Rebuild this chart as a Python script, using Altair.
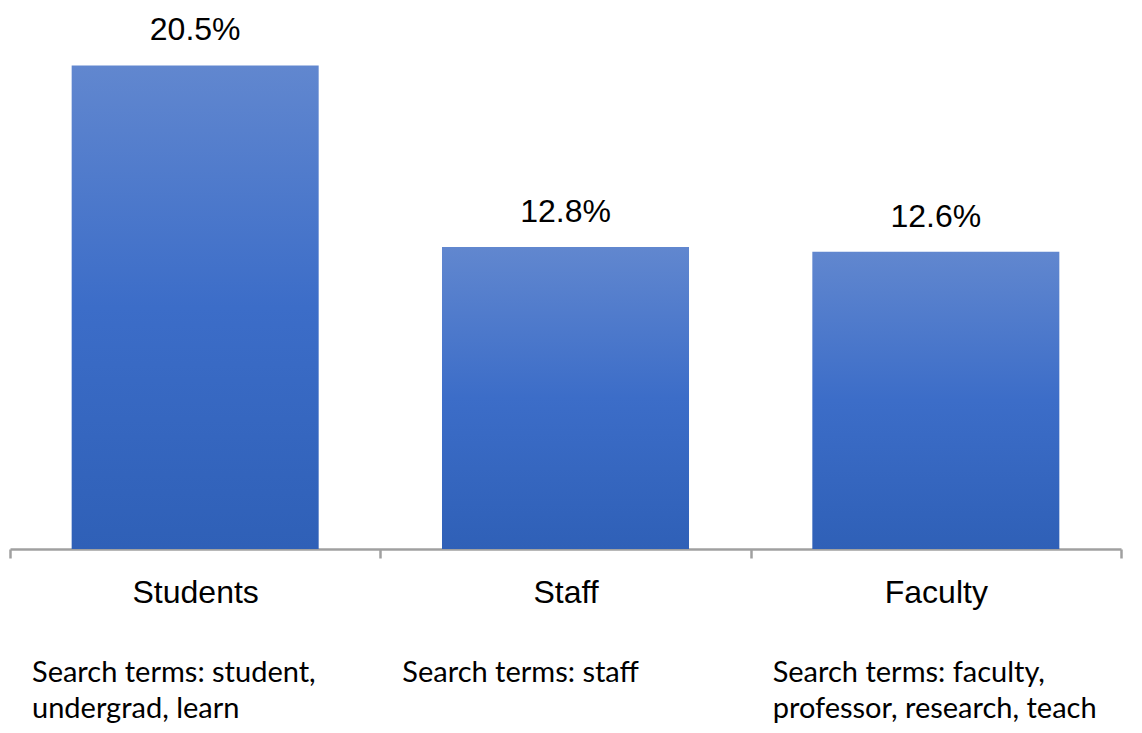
import altair as alt
import pandas as pd

categories = ["Students", "Staff", "Faculty"]
values = [20.5, 12.8, 12.6]
labels = ["20.5%", "12.8%", "12.6%"]
search_terms = [
    "Search terms: student,\nundergrad, learn",
    "Search terms: staff",
    "Search terms: faculty,\nprofessor, research, teach",
]

df = pd.DataFrame({"cat": categories, "value": values, "label": labels, "terms": search_terms})

xscale = alt.Scale(domain=categories, paddingInner=0, paddingOuter=0)
yscale = alt.Scale(domain=[0, 22], nice=False, zero=True)

grad = alt.Gradient(
    gradient="linear",
    stops=[
        alt.GradientStop(color="#6187cf", offset=0),
        alt.GradientStop(color="#3c6dc8", offset=0.5),
        alt.GradientStop(color="#2f60b7", offset=1),
    ],
    x1=0, x2=0, y1=0, y2=1,
)

base = alt.Chart(df)

bars = base.mark_bar(color=grad, width=alt.RelativeBandSize(0.667)).encode(
    x=alt.X("cat:N", scale=xscale, sort=categories,
            axis=alt.Axis(title=None, labelAngle=0, domainColor="#a0a0a0", domainWidth=2.5,
                          tickColor="#a0a0a0", tickWidth=2.5, tickSize=9, tickBand="extent",
                          labelFont="Liberation Sans", labelFontSize=32, labelColor="black",
                          labelBaseline="alphabetic", labelPadding=44, grid=False)),
    y=alt.Y("value:Q", scale=yscale, axis=None),
)

vals = base.mark_text(font="Liberation Sans", fontSize=32, color="black",
                      baseline="alphabetic", dy=-25).encode(
    x=alt.X("cat:N", scale=xscale, sort=categories),
    y=alt.Y("value:Q", scale=yscale),
    text="label:N",
)

terms = base.mark_text(font="Lato", fontSize=29, color="black", align="left",
                       baseline="alphabetic", lineBreak="\n", lineHeight=36, dx=22).encode(
    x=alt.X("cat:N", scale=xscale, sort=categories, bandPosition=0),
    y=alt.value(652),
    text="terms:N",
)

chart = alt.layer(bars, vals, terms).properties(
    width=1111, height=519,
    autosize=alt.AutoSizeParams(type="none"),
    padding={"left": 2, "top": 22, "right": 13, "bottom": 176},
).configure_view(stroke=None)

chart.save("out.html", embed_options={"renderer": "svg", "actions": False})
